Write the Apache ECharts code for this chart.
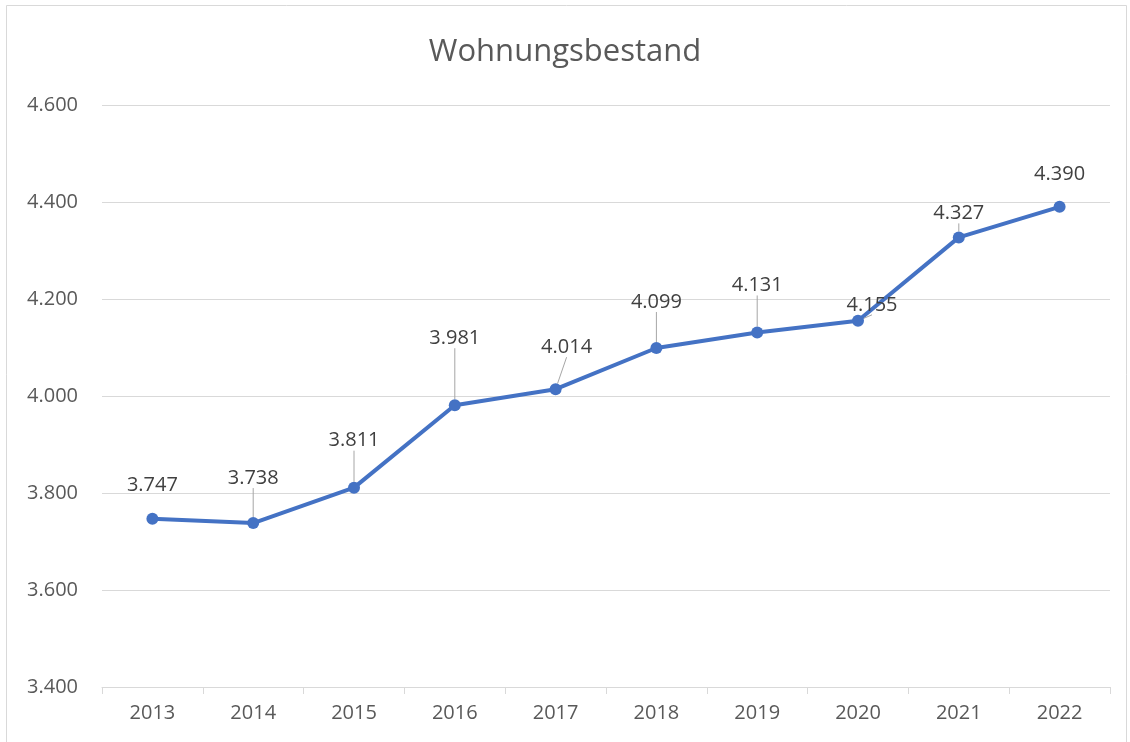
<!DOCTYPE html>
<html>
<head>
<meta charset="utf-8">
<script src="https://cdn.jsdelivr.net/npm/echarts@6/dist/echarts.min.js"></script>
<style>
  html, body { margin: 0; padding: 0; background: #fff; }
  #chart { width: 1130px; height: 742px; }
</style>
</head>
<body>
<div id="chart"></div>
<script>
const years = ['2013', '2014', '2015', '2016', '2017', '2018', '2019', '2020', '2021', '2022']
const bestand = [3747, 3738, 3811, 3981, 4014, 4099, 4131, 4155, 4327, 4390]
// manual label nudges (dx, dy) like the dragged labels in the original
const labelShift = [[0, 0], [0, -12], [0, -14], [0, -34], [11, -9], [0, -13], [0, -14], [14, 17], [0, 9], [0, 0]]
const withLeader = [false, true, true, true, true, true, true, true, true, false]

const dotted = v => String(v).replace(/\B(?=(\d{3})+$)/g, '.')

const chart = echarts.init(document.getElementById('chart'))
chart.setOption({
  animation: false,
  textStyle: { fontFamily: 'Open Sans, sans-serif' },
  graphic: [{
    type: 'rect', left: 6, top: 5, z: -1,
    shape: { width: 1120, height: 740 },
    style: { fill: '#fff', stroke: '#d9d9d9', lineWidth: 1 }
  }],
  title: {
    text: 'Wohnungsbestand', left: 'center', top: 32,
    textStyle: { fontSize: 31, fontWeight: 'normal', color: '#595959', fontFamily: 'Open Sans, sans-serif' }
  },
  grid: { left: 102, right: 20, top: 105, bottom: 55 },
  xAxis: {
    type: 'category', data: years, boundaryGap: true,
    axisLine: { lineStyle: { color: '#d9d9d9' } },
    axisTick: { show: true, length: 7, lineStyle: { color: '#d9d9d9' } },
    axisLabel: { color: '#595959', fontSize: 20, margin: 16 }
  },
  yAxis: {
    type: 'value', min: 3400, max: 4600, interval: 200,
    axisLine: { show: false }, axisTick: { show: false },
    axisLabel: { color: '#595959', fontSize: 20, margin: 24, formatter: v => dotted(v) },
    splitLine: { lineStyle: { color: '#d9d9d9' } }
  },
  series: [{
    type: 'line', data: bestand.map((v, i) => ({ value: v, labelLine: { show: withLeader[i] } })),
    symbol: 'circle', symbolSize: 12,
    lineStyle: { color: '#4472C4', width: 4 },
    itemStyle: { color: '#4472C4' },
    label: {
      show: true, position: 'top', distance: 17, fontSize: 20, color: '#404040',
      formatter: p => dotted(p.value)
    },
    labelLine: { show: true, lineStyle: { color: '#a6a6a6', width: 1 } },
    labelLayout: p => ({ dx: labelShift[p.dataIndex][0], dy: labelShift[p.dataIndex][1] })
  }]
})
window.addEventListener('resize', () => chart.resize())
</script>
</body>
</html>
